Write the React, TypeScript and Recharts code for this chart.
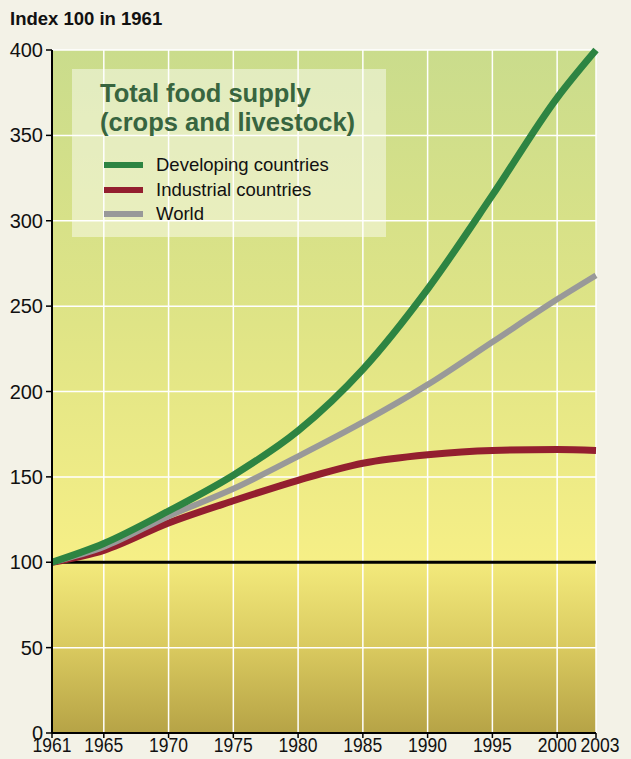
import React from 'react';
import {
  LineChart,
  Line,
  XAxis,
  YAxis,
  CartesianGrid,
  ReferenceLine,
} from 'recharts';

const years = [1961, 1965, 1970, 1975, 1980, 1985, 1990, 1995, 2000, 2003];
const developing = [100, 111, 130, 151, 177, 213, 260, 315, 372, 400];
const industrial = [100, 107, 123, 136, 148, 158, 163, 165.5, 166, 165.5];
const world = [100, 109, 127, 143, 162, 182, 204, 229, 254, 268];

const xTicks = [1961, 1965, 1970, 1975, 1980, 1985, 1990, 1995, 2000, 2003];
const yTicks = [0, 50, 100, 150, 200, 250, 300, 350, 400];

const seriesInfo = [
  { key: 'developing', name: 'Developing countries', color: '#2d8442' },
  { key: 'industrial', name: 'Industrial countries', color: '#931f2f' },
  { key: 'world', name: 'World', color: '#999999' },
];

const data = years.map((y, i) => ({
  year: y,
  developing: developing[i],
  industrial: industrial[i],
  world: world[i],
}));

const FONT = '"Liberation Sans", Arial, sans-serif';

// year labels are set in a narrow face in the original, squeeze them a bit
function YearTick(props: any) {
  const { x, y, payload } = props;
  const last = payload.value === 2003;
  return (
    <text
      x={x + (last ? 4 : 0)}
      y={y}
      dy={13}
      textAnchor="middle"
      fontFamily={FONT}
      fontSize={20}
      fill="#111"
      textLength={39}
      lengthAdjust="spacingAndGlyphs"
    >
      {payload.value}
    </text>
  );
}

// legend drawn as an overlay so it doesn't eat into the plot height
function LegendBox() {
  return (
    <div
      style={{
        position: 'absolute',
        left: 72,
        top: 69,
        width: 314,
        height: 168,
        background: 'rgba(255,255,255,0.45)',
        fontFamily: FONT,
        boxSizing: 'border-box',
        paddingLeft: 28,
        paddingTop: 10,
      }}
    >
      <div style={{ color: '#38653f', fontWeight: 'bold', fontSize: 25.5, lineHeight: '29px' }}>
        Total food supply
        <br />
        (crops and livestock)
      </div>
      <div style={{ marginTop: 16 }}>
        {seriesInfo.map((s) => (
          <div key={s.key} style={{ display: 'flex', alignItems: 'center', height: 24.5 }}>
            <div style={{ width: 39, height: 6, background: s.color, marginLeft: 4, marginRight: 13 }} />
            <span style={{ fontSize: 18.5, color: '#111' }}>{s.name}</span>
          </div>
        ))}
      </div>
    </div>
  );
}

export default function App() {
  return (
    <div
      style={{
        position: 'absolute',
        left: 0,
        top: 0,
        width: 631,
        height: 759,
        background: '#f3f2e7',
        overflow: 'hidden',
      }}
    >
      <div
        style={{
          position: 'absolute',
          left: 10,
          top: 8,
          fontFamily: FONT,
          fontWeight: 'bold',
          fontSize: 18.5,
          color: '#111',
        }}
      >
        Index 100 in 1961
      </div>
      <LineChart
        width={631}
        height={759}
        data={data}
        margin={{ top: 50, right: 35, left: 0, bottom: 0 }}
      >
        <defs>
          <linearGradient id="bg" x1="0" y1="0" x2="0" y2="1">
            <stop offset="0%" stopColor="#cadc8c" />
            <stop offset="40%" stopColor="#dfe486" />
            <stop offset="75%" stopColor="#f6ef86" />
            <stop offset="75%" stopColor="#f3ea7c" />
            <stop offset="88%" stopColor="#d8c85e" />
            <stop offset="100%" stopColor="#b6a346" />
          </linearGradient>
        </defs>
        <CartesianGrid
          fill="url(#bg)"
          fillOpacity={1}
          stroke="#ffffff"
          strokeWidth={1.5}
        />
        <XAxis
          dataKey="year"
          type="number"
          domain={[1961, 2003]}
          ticks={xTicks}
          interval={0}
          height={26}
          tickSize={5}
          tickMargin={1}
          axisLine={{ stroke: '#000', strokeWidth: 2 }}
          tickLine={{ stroke: '#000', strokeWidth: 1.5 }}
          tick={<YearTick />}
        />
        <YAxis
          type="number"
          domain={[0, 400]}
          ticks={yTicks}
          interval={0}
          width={52}
          tickSize={6}
          tickMargin={3}
          axisLine={{ stroke: '#000', strokeWidth: 2 }}
          tickLine={{ stroke: '#000', strokeWidth: 1.5 }}
          tick={{ fill: '#111', fontSize: 20, fontFamily: FONT }}
        />
        <ReferenceLine y={100} stroke="#000" strokeWidth={3} />
        <Line
          type="monotone"
          dataKey="industrial"
          stroke="#931f2f"
          strokeWidth={7}
          dot={false}
          isAnimationActive={false}
        />
        <Line
          type="monotone"
          dataKey="world"
          stroke="#999999"
          strokeWidth={6}
          dot={false}
          isAnimationActive={false}
        />
        <Line
          type="monotone"
          dataKey="developing"
          stroke="#2d8442"
          strokeWidth={7}
          dot={false}
          isAnimationActive={false}
        />
      </LineChart>
      <LegendBox />
    </div>
  );
}
